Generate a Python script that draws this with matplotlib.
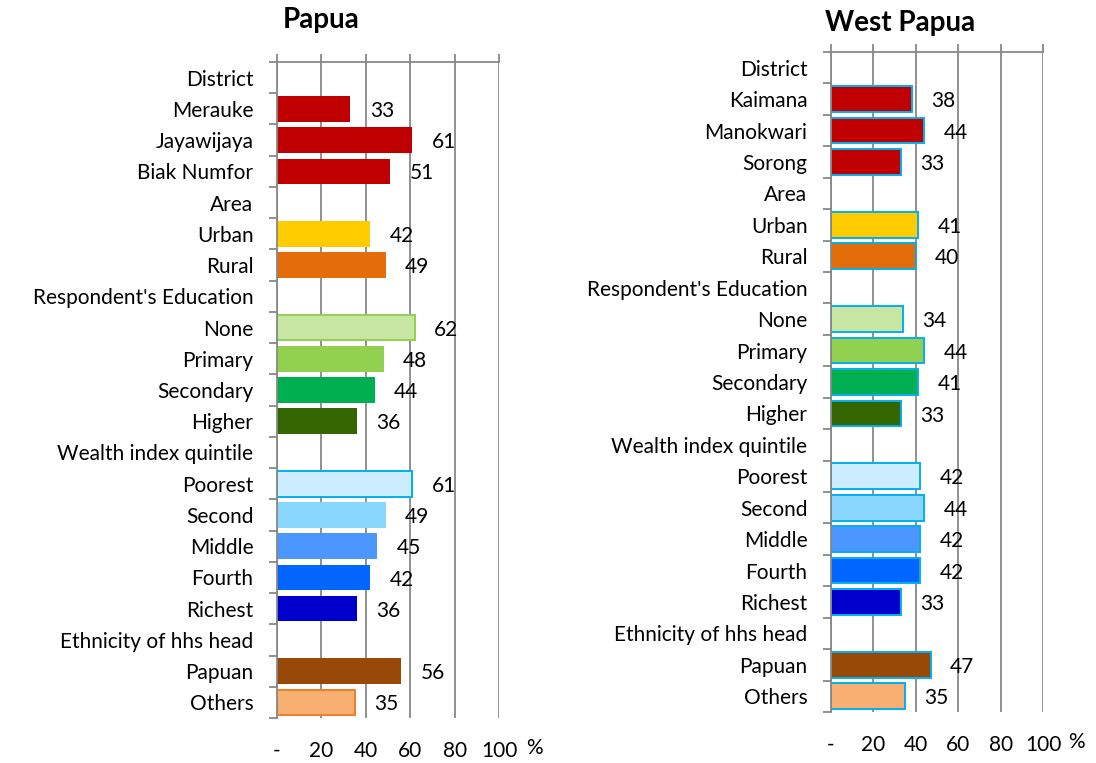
import numpy as np
import matplotlib
matplotlib.use("Agg")
import matplotlib.pyplot as plt

plt.rcParams["font.family"] = ["Lato", "DejaVu Sans"]

# ==================== DATA ====================
papua_labels = [
    "District", "Merauke", "Jayawijaya", "Biak Numfor",
    "Area", "Urban", "Rural",
    "Respondent's Education", "None", "Primary", "Secondary", "Higher",
    "Wealth index quintile", "Poorest", "Second", "Middle", "Fourth", "Richest",
    "Ethnicity of hhs head", "Papuan", "Others",
]
west_labels = [
    "District", "Kaimana", "Manokwari", "Sorong",
    "Area", "Urban", "Rural",
    "Respondent's Education", "None", "Primary", "Secondary", "Higher",
    "Wealth index quintile", "Poorest", "Second", "Middle", "Fourth", "Richest",
    "Ethnicity of hhs head", "Papuan", "Others",
]
# header rows carry no value
papua_values = [None, 33, 61, 51, None, 42, 49, None, 62, 48, 44, 36,
                None, 61, 49, 45, 42, 36, None, 56, 35]
west_values = [None, 38, 44, 33, None, 41, 40, None, 34, 44, 41, 33,
               None, 42, 44, 42, 42, 33, None, 47, 35]

x_ticks = [0, 20, 40, 60, 80, 100]
x_tick_labels = ["-", "20", "40", "60", "80", "100"]

# ==================== STYLE ====================
bar_colors = [
    None, "#C00000", "#C00000", "#C00000",
    None, "#FFCC00", "#E46C0A",
    None, "#C6E6A2", "#92D050", "#00B050", "#336600",
    None, "#CCECFF", "#89D6FF", "#4B96FF", "#0066FF", "#0000CC",
    None, "#984807", "#FAAF72",
]
papua_edges = [
    None, None, None, None,
    None, None, None,
    None, "#92D050", None, None, None,
    None, "#00B0F0", None, None, None, None,
    None, None, "#F07E26",
]
west_edge = "#00B0F0"
GRID = "#888888"
FS = 15


def draw_panel(ax, labels, values, edges):
    n = len(labels)
    pos = np.arange(n)
    ax.set_axisbelow(True)
    for i, v in enumerate(values):
        if v is None:
            continue
        ec = edges[i]
        ax.barh(pos[i], v, height=0.82, color=bar_colors[i],
                edgecolor=ec if ec else bar_colors[i],
                linewidth=1.4 if ec else 0, zorder=2)
        ax.annotate(f"{v}", xy=(v, pos[i]), xytext=(14, -1.5),
                    textcoords="offset points", ha="left", va="center",
                    fontsize=FS, color="black", zorder=3)

    ax.set_xlim(0, 100)
    ax.set_ylim(n - 0.5, -0.5)

    ax.set_yticks(pos)
    ax.set_yticklabels(labels)
    ax.set_yticks(np.arange(n + 1) - 0.5, minor=True)
    ax.tick_params(axis="y", which="major", length=0, pad=17, labelsize=FS)
    ax.tick_params(axis="y", which="minor", length=5.5, width=1.3,
                   color=GRID, direction="out")

    ax.set_xticks(x_ticks)
    ax.set_xticklabels(x_tick_labels)
    ax.tick_params(axis="x", which="major", top=True, bottom=False,
                   labeltop=False, labelbottom=True, length=5.5, width=1.3,
                   color=GRID, direction="out", pad=11, labelsize=FS)
    ax.xaxis.grid(True, color=GRID, linewidth=1.3)

    for side in ["right", "bottom"]:
        ax.spines[side].set_visible(False)
    for side in ["top", "left"]:
        ax.spines[side].set_color(GRID)
        ax.spines[side].set_linewidth(1.3)

    ax.text(1.16, -0.045, "%", transform=ax.transAxes, ha="center",
            va="center", fontsize=FS)


fig = plt.figure(figsize=(10.96, 7.63), dpi=100)
ax1 = fig.add_axes([277 / 1096, 45 / 763, 222 / 1096, 656 / 763])
ax2 = fig.add_axes([831 / 1096, 51 / 763, 212 / 1096, 660 / 763])

draw_panel(ax1, papua_labels, papua_values, papua_edges)
draw_panel(ax2, west_labels, west_values, [west_edge] * len(west_values))

fig.text(283 / 1096, 1 - 28 / 763, "Papua", fontsize=20, fontweight="bold",
         ha="left", va="baseline")
fig.text(825 / 1096, 1 - 31 / 763, "West Papua", fontsize=20,
         fontweight="bold", ha="left", va="baseline")

fig.savefig("out.png", dpi=100)
